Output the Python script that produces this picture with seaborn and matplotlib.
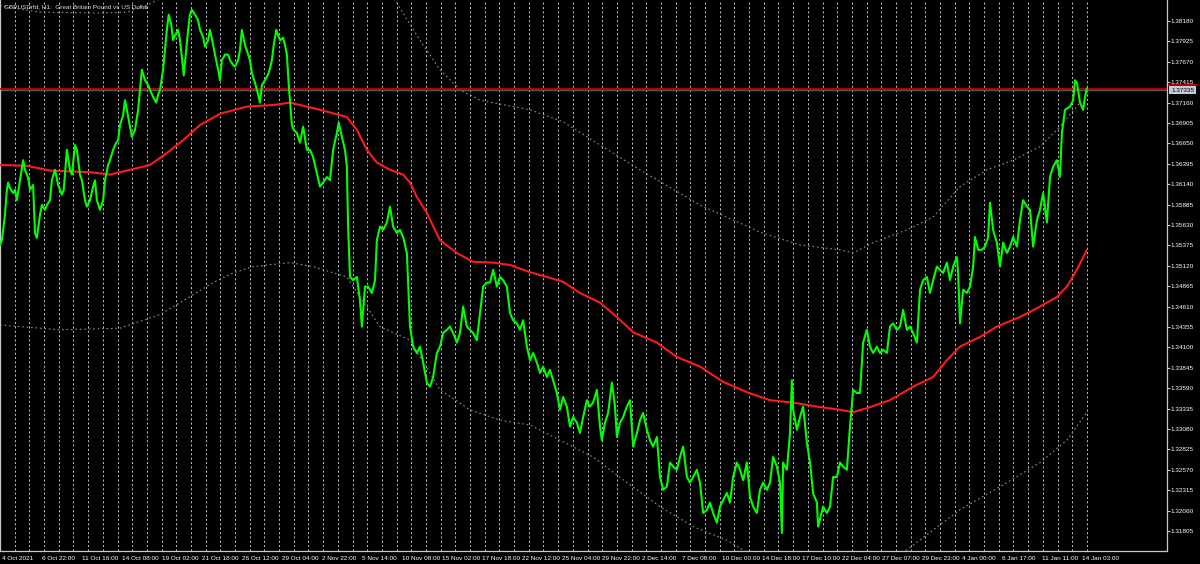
import pandas as pd
import matplotlib
matplotlib.use("Agg")
import matplotlib.pyplot as plt
import seaborn as sns

# GBPUSDrfd H1 close (bar = hourly bar number since 4 Oct 2021)
price_bar = [0, 3, 8, 11, 13, 16, 21, 24, 27, 32, 37, 40, 45, 48, 53, 56, 59, 64, 67, 72,
             75, 80, 83, 88, 93, 99, 102, 107, 112, 115, 120, 123, 128, 131, 136, 139, 144, 149, 152, 155,
             160, 165, 168, 173, 176, 181, 186, 189, 192, 197, 200, 203, 208, 211, 216, 221, 224, 227, 232, 237,
             240, 245, 250, 253, 256, 261, 264, 267, 270, 274, 277, 280, 285, 288, 291, 294, 298, 301, 304, 307,
             312, 317, 320, 325, 328, 333, 336, 341, 344, 349, 352, 355, 360, 365, 368, 373, 376, 381, 384, 387,
             392, 397, 400, 403, 408, 413, 416, 419, 424, 429, 432, 435, 438, 442, 445, 448, 453, 456, 459, 462,
             464,
             467, 470, 475, 480, 485, 491, 496, 501, 507, 512, 517, 523, 528, 533, 539, 542, 547, 552, 555, 557,
             560, 565, 571, 576, 579, 584, 589, 595, 600, 603, 608, 613, 619, 624, 629, 635, 640, 645, 651, 653,
             656, 661, 667, 672, 677, 683, 688, 693, 699, 704, 709, 715, 720, 725, 731, 736, 741, 747, 752, 757,
             763, 768, 773, 779, 784, 789, 795, 800, 805, 811, 816, 821, 827, 832, 837, 843, 848, 853, 859, 864,
             869, 875, 880, 885, 891,
             896, 901, 907, 912, 917, 923, 928, 933, 939, 944, 949, 955, 960, 963, 968, 973, 979, 984, 987, 992,
             997, 1003, 1008, 1013, 1019, 1024, 1029, 1035, 1040, 1045, 1051, 1056, 1061, 1067, 1072, 1077, 1083, 1088, 1093, 1099,
             1104, 1109, 1115, 1120, 1125, 1131, 1136, 1141, 1147, 1152, 1157, 1163, 1168, 1173, 1179, 1184, 1189, 1195, 1200, 1205,
             1211, 1216, 1221, 1227, 1232, 1237, 1243, 1248, 1251, 1253, 1259, 1264, 1267, 1269, 1275, 1280, 1285, 1291, 1296, 1301,
             1307, 1309, 1317, 1323, 1328, 1333, 1339, 1344, 1349, 1355, 1360, 1365, 1371,
             1376, 1381, 1387, 1392, 1397, 1403, 1408, 1413, 1419, 1424, 1429, 1435, 1440, 1445, 1451, 1456, 1461, 1467, 1472, 1477,
             1483, 1488, 1493, 1499, 1504, 1509, 1515, 1520, 1525, 1531, 1533, 1536, 1541, 1547, 1552, 1557, 1560, 1565, 1571, 1576,
             1581, 1584, 1589, 1595, 1600, 1605, 1611, 1616, 1621, 1627, 1632, 1637, 1643, 1648, 1653, 1659, 1664, 1669, 1675, 1680,
             1685, 1691, 1696, 1699, 1704, 1712, 1717, 1720, 1723, 1728, 1733, 1736, 1739]
price_close = [1.3538, 1.3544, 1.3576, 1.3607, 1.3616, 1.3609, 1.3603, 1.3607, 1.3594, 1.3619,
               1.3644, 1.3632, 1.3622, 1.3607, 1.3613, 1.3553, 1.3547, 1.3576, 1.3588, 1.3582,
               1.3588, 1.3594, 1.3619, 1.3632, 1.3613, 1.3601, 1.3607, 1.3657, 1.3632, 1.3626,
               1.3663, 1.3657, 1.3626, 1.3619, 1.3594, 1.3586, 1.3594, 1.3611, 1.3619, 1.3594,
               1.3582, 1.3594, 1.3619, 1.3638, 1.3644, 1.3657, 1.3666, 1.3669, 1.3688, 1.3700,
               1.3719, 1.3707, 1.3686, 1.3673, 1.3682, 1.3707, 1.3732, 1.3757, 1.3744, 1.3738,
               1.3732, 1.3723, 1.3716, 1.3726, 1.3732, 1.3757, 1.3782, 1.3807, 1.3826, 1.3813,
               1.3794, 1.3800, 1.3807, 1.3794, 1.3773, 1.3750, 1.3782, 1.3807, 1.3826, 1.3832,
               1.3826, 1.3819, 1.3807, 1.3798, 1.3786, 1.3794, 1.3807, 1.3788, 1.3776, 1.3757,
               1.3744, 1.3769, 1.3776, 1.3776, 1.3769, 1.3763, 1.3761, 1.3769, 1.3782, 1.3807,
               1.3788, 1.3776, 1.3769, 1.3753, 1.3741, 1.3726, 1.3716, 1.3738, 1.3744, 1.3751,
               1.3759, 1.3769, 1.3788, 1.3807, 1.3800, 1.3794, 1.3797, 1.3788, 1.3776, 1.3738,
               1.3719,
               1.3688, 1.3682, 1.3678, 1.3666, 1.3686, 1.3657, 1.3657, 1.3648, 1.3628, 1.3611,
               1.3616, 1.3623, 1.3619, 1.3657, 1.3678, 1.3691, 1.3673, 1.3657, 1.3636, 1.3561,
               1.3498, 1.3494, 1.3498, 1.3469, 1.3436, 1.3486, 1.3486, 1.3478, 1.3494, 1.3544,
               1.3561, 1.3557, 1.3566, 1.3586, 1.3561, 1.3553, 1.3557, 1.3548, 1.3528, 1.3491,
               1.3436, 1.3411, 1.3403, 1.3411, 1.3391, 1.3366, 1.3361, 1.3373, 1.3403, 1.3411,
               1.3428, 1.3432, 1.3436, 1.3428, 1.3416, 1.3428, 1.3461, 1.3436, 1.3432, 1.3428,
               1.3419, 1.3453, 1.3486, 1.3491, 1.3491, 1.3507, 1.3486, 1.3498, 1.3494, 1.3486,
               1.3453, 1.3444, 1.3440, 1.3432, 1.3444, 1.3411, 1.3394, 1.3403, 1.3391, 1.3378,
               1.3386, 1.3373, 1.3382, 1.3369, 1.3353,
               1.3332, 1.3348, 1.3336, 1.3311, 1.3323, 1.3316, 1.3303, 1.3323, 1.3344, 1.3336,
               1.3341, 1.3357, 1.3311, 1.3294, 1.3316, 1.3328, 1.3366, 1.3336, 1.3298, 1.3316,
               1.3323, 1.3336, 1.3344, 1.3286, 1.3303, 1.3319, 1.3328, 1.3307, 1.3294, 1.3286,
               1.3298, 1.3248, 1.3232, 1.3236, 1.3266, 1.3261, 1.3257, 1.3273, 1.3286, 1.3248,
               1.3241, 1.3248, 1.3257, 1.3241, 1.3203, 1.3207, 1.3216, 1.3203, 1.3191, 1.3211,
               1.3219, 1.3228, 1.3216, 1.3248, 1.3266, 1.3257, 1.3244, 1.3266, 1.3223, 1.3211,
               1.3203, 1.3232, 1.3241, 1.3232, 1.3241, 1.3273, 1.3261, 1.3241, 1.3178, 1.3266,
               1.3257, 1.3303, 1.3369, 1.3332, 1.3307, 1.3323, 1.3336, 1.3291, 1.3266, 1.3228,
               1.3216, 1.3186, 1.3211, 1.3203, 1.3211, 1.3248, 1.3248, 1.3266, 1.3261, 1.3257,
               1.3311, 1.3357, 1.3353,
               1.3353, 1.3416, 1.3432, 1.3411, 1.3403, 1.3411, 1.3403, 1.3407, 1.3403, 1.3436,
               1.3440, 1.3432, 1.3436, 1.3457, 1.3432, 1.3436, 1.3428, 1.3416, 1.3482, 1.3494,
               1.3498, 1.3478, 1.3494, 1.3511, 1.3507, 1.3503, 1.3516, 1.3494, 1.3511, 1.3523,
               1.3503, 1.3440, 1.3482, 1.3478, 1.3486, 1.3511, 1.3548, 1.3532, 1.3532, 1.3536,
               1.3548, 1.3591, 1.3557, 1.3541, 1.3511, 1.3541, 1.3528, 1.3536, 1.3548, 1.3536,
               1.3569, 1.3594, 1.3586, 1.3582, 1.3536, 1.3569, 1.3582, 1.3603, 1.3566, 1.3623,
               1.3636, 1.3644, 1.3623, 1.3678, 1.3707, 1.3711, 1.3719, 1.3744, 1.3741, 1.3716,
               1.3707, 1.3723, 1.3734]

# moving average (red)
ma_bar = [0, 43, 80, 144, 176, 208, 240, 267, 293, 320, 352, 395, 437, 464, 512, 555, 571, 587, 603, 624,
          645, 656, 667, 683, 704, 731, 757, 789, 816, 848, 875, 901, 928, 960, 987, 1013, 1051, 1083, 1120, 1157,
          1195, 1232, 1269, 1307, 1344, 1365, 1387, 1424, 1461, 1493, 1515, 1536, 1568, 1595, 1632, 1664, 1691, 1707, 1723, 1739]
ma_value = [1.3638, 1.3637, 1.3631, 1.3629, 1.3626, 1.3632, 1.3638, 1.3653, 1.3669, 1.3688,
            1.3702, 1.3711, 1.3713, 1.3716, 1.3707, 1.3698, 1.3682, 1.3657, 1.3641, 1.3632,
            1.3626, 1.3616, 1.3598, 1.3578, 1.3544, 1.3528, 1.3517, 1.3516, 1.3513, 1.3504,
            1.3498, 1.3492, 1.3478, 1.3466, 1.3448, 1.3429, 1.3416, 1.3398, 1.3386, 1.3367,
            1.3354, 1.3344, 1.3341, 1.3336, 1.3332, 1.3329, 1.3334, 1.3344, 1.3361, 1.3373,
            1.3394, 1.3411, 1.3423, 1.3436, 1.3448, 1.3461, 1.3473, 1.3486, 1.3507, 1.3532]

# envelope bands (grey dotted)
upper_bar = [0, 64, 160, 203, 235, 251, 320, 400, 464, 544, 592, 632, 672, 704, 736, 768, 848, 901, 960, 1024,
             1120, 1216, 1280, 1344, 1365, 1397, 1451, 1493, 1536, 1579, 1621, 1664, 1696, 1728]
upper_value = [1.3837, 1.3829, 1.3828, 1.3829, 1.3838, 1.3844, 1.3875, 1.3907, 1.3915, 1.3900,
               1.3875, 1.3844, 1.3794, 1.3757, 1.3732, 1.3719, 1.3707, 1.3692, 1.3663, 1.3632,
               1.3588, 1.3554, 1.3538, 1.3532, 1.3528, 1.3541, 1.3557, 1.3573, 1.3611, 1.3632,
               1.3644, 1.3661, 1.3686, 1.3716]
lower_bar = [0, 96, 192, 256, 301, 341, 373, 405, 464, 501, 555, 576, 608, 656, 688, 704, 752, 800, 848, 896,
             949, 1003, 1056, 1109, 1163, 1216, 1280, 1360, 1451, 1536, 1611, 1664, 1707, 1739]
lower_value = [1.3438, 1.3432, 1.3434, 1.3451, 1.3472, 1.3491, 1.3503, 1.3511, 1.3516, 1.3511,
               1.3498, 1.3473, 1.3436, 1.3419, 1.3378, 1.3357, 1.3332, 1.3319, 1.3313, 1.3294,
               1.3273, 1.3241, 1.3211, 1.3186, 1.3169, 1.3144, 1.3125, 1.3132, 1.3157, 1.3207,
               1.3241, 1.3266, 1.3294, 1.3329]

time_labels = ["4 Oct 2021", "6 Oct 22:00", "11 Oct 16:00", "14 Oct 08:00", "19 Oct 02:00",
               "21 Oct 18:00", "26 Oct 12:00", "29 Oct 04:00", "2 Nov 22:00", "5 Nov 14:00",
               "10 Nov 08:00", "15 Nov 02:00", "17 Nov 18:00", "22 Nov 12:00", "25 Nov 04:00",
               "29 Nov 22:00", "2 Dec 14:00", "7 Dec 08:00", "10 Dec 00:00", "14 Dec 18:00",
               "17 Dec 10:00", "22 Dec 04:00", "27 Dec 07:00", "29 Dec 23:00", "4 Jan 00:00",
               "6 Jan 17:00", "11 Jan 11:00", "14 Jan 03:00"]
price_labels = ["1.38180", "1.37925", "1.37670", "1.37415", "1.37160", "1.36905", "1.36650",
                "1.36395", "1.36140", "1.35885", "1.35630", "1.35375", "1.35120", "1.34865",
                "1.34610", "1.34355", "1.34100", "1.33845", "1.33590", "1.33335", "1.33080",
                "1.32825", "1.32570", "1.32315", "1.32060", "1.31805"]
last_price = 1.37335
ask_price = 1.37315
title = "GBPUSDrfd, H1:  Great Britain Pound vs US Dollar"

price_df = pd.DataFrame({"bar": price_bar, "close": price_close})
ma_df = pd.DataFrame({"bar": ma_bar, "ma": ma_value})
upper_df = pd.DataFrame({"bar": upper_bar, "band": upper_value})
lower_df = pd.DataFrame({"bar": lower_bar, "band": lower_value})

sns.set_style("dark")
plt.rcParams["font.family"] = ["Liberation Sans", "DejaVu Sans"]

fig = plt.figure(figsize=(12, 5.64), dpi=100, facecolor="black")
ax = fig.add_axes([0.0, 13 / 564, 1167 / 1200, 551 / 564])
ax.set_facecolor("black")

bars_per_label = 64
label_bars = [3 + bars_per_label * i for i in range(len(time_labels))]

# vertical dotted grid (period separators, ~23.5 bars apart, up to the last bar)
grid_step = 23.5
k = 1
while k * grid_step <= price_bar[-1] + 20:
    ax.axvline(k * grid_step, color="#c8c8c8", lw=0.7,
               linestyle=(0, (2, 2.5)), zorder=1)
    k += 1

sns.lineplot(data=upper_df, x="bar", y="band", ax=ax, color="#8c8c8c", lw=0.8,
             linestyle=(0, (1.5, 2.5)), estimator=None, zorder=2)
sns.lineplot(data=lower_df, x="bar", y="band", ax=ax, color="#8c8c8c", lw=0.8,
             linestyle=(0, (1.5, 2.5)), estimator=None, zorder=2)

ax.axhline(ask_price, color="#5a5a5a", lw=1.0, zorder=2)
ax.axhline(last_price, color="#d40000", lw=1.2, zorder=3)

sns.lineplot(data=ma_df, x="bar", y="ma", ax=ax, color="#ff1a1a", lw=1.5,
             estimator=None, zorder=4)
sns.lineplot(data=price_df, x="bar", y="close", ax=ax, color="#00ff00", lw=1.5,
             estimator=None, zorder=5)

ax.set_xlim(0, 1167 * 1.6)
ax.set_ylim(1.384425 - 551 * 0.000125, 1.384425)

ax.set_xticks(label_bars)
ax.set_xticklabels(time_labels, ha="left", fontsize=4.6, color="white")
ax.set_yticks([float(v) for v in price_labels])
ax.set_yticklabels(price_labels, fontsize=4.6, color="white")
ax.yaxis.tick_right()
ax.tick_params(axis="x", length=2.5, width=0.8, color="#c8c8c8", pad=1, direction="out")
ax.tick_params(axis="y", length=2, width=0.8, color="#c8c8c8", pad=0.8, direction="out")
ax.set_xlabel("")
ax.set_ylabel("")
ax.grid(False)

for side in ["right", "bottom", "left"]:
    ax.spines[side].set_visible(True)
    ax.spines[side].set_color("#c8c8c8")
    ax.spines[side].set_linewidth(0.9)
ax.spines["top"].set_visible(False)

ax.text(0.003, 0.993, title, transform=ax.transAxes, fontsize=4.6, color="#e0e0e0",
        va="top", ha="left", zorder=6)

# current price tag on the price scale
ytrans = ax.get_yaxis_transform()
ax.plot([1.0, 1.026], [last_price + 0.0004, last_price + 0.0004], transform=ytrans,
        color="#e00000", lw=1.2, clip_on=False)
ax.text(1.0035, last_price - 0.0002, "1.37335", transform=ytrans, fontsize=4.6,
        color="black", va="center", ha="left",
        bbox=dict(facecolor="#c4ccd8", edgecolor="none", pad=1.2), clip_on=False)

fig.savefig("out.png", dpi=100, facecolor="black")
